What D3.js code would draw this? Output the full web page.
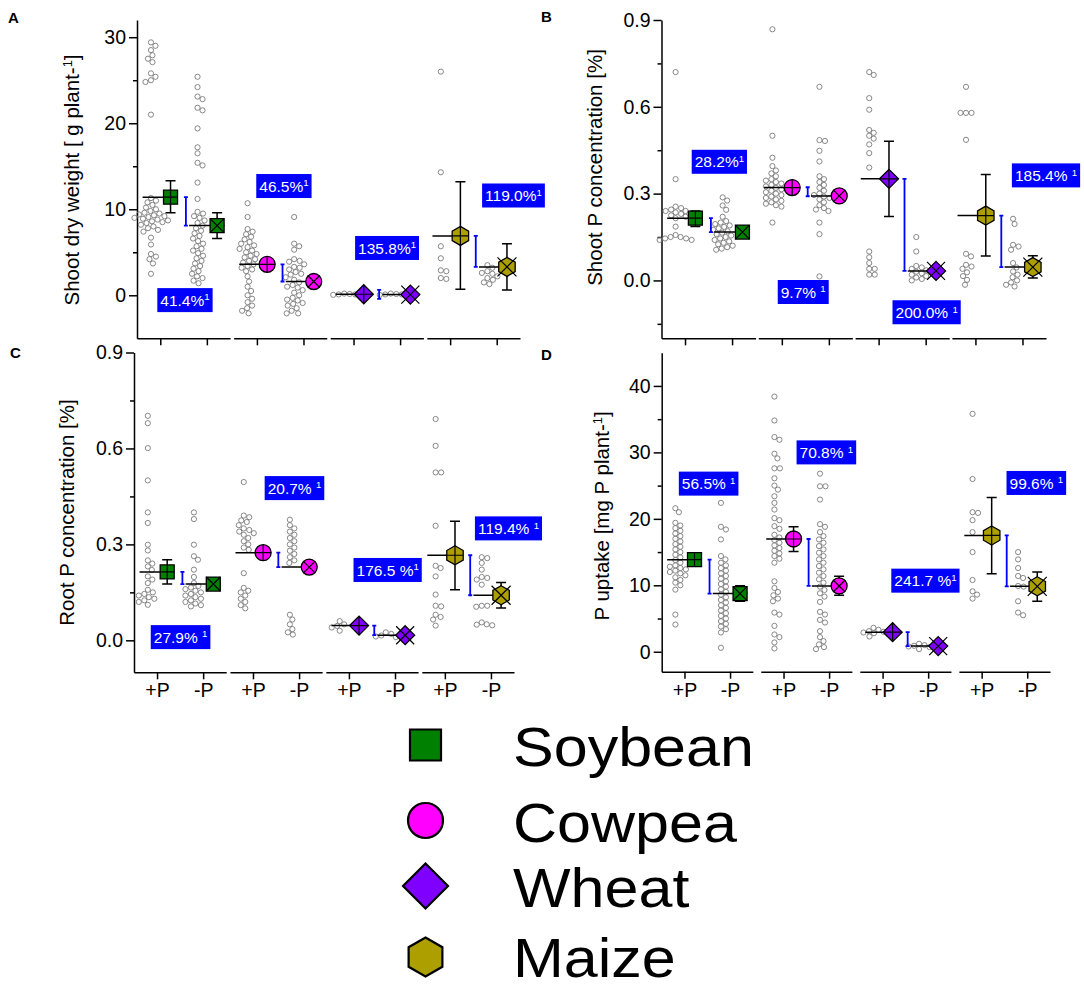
<!DOCTYPE html>
<html>
<head>
<meta charset="utf-8">
<script src="https://cdn.jsdelivr.net/npm/d3@7"></script>
<style>
body{margin:0;background:#fff;}
svg text{font-family:"Liberation Sans",Arial,Helvetica,sans-serif;white-space:pre;}
</style>
</head>
<body>
<svg id="chart" width="1084" height="995"></svg>
<script>
// ---- data ---------------------------------------------------------------
const crops = ["Soybean", "Cowpea", "Wheat", "Maize"];
const treatments = ["+P", "-P"];
const cropColors = ["#008000", "#ff00ff", "#8000ff", "#ad9f00"];
const cropShapes = ["square", "circle", "diamond", "hexagon"];

// A: shoot dry weight [g plant-1]  -> [crop][+P, -P]
const shootDwMean = [[11.4, 8.1], [3.6, 1.6], [0.12, 0.08], [6.9, 3.3]];
const shootDwLow  = [[9.6, 6.6], [3.2, 1.3], [0.0, 0.0], [0.7, 0.6]];
const shootDwHigh = [[13.3, 9.6], [4.0, 1.9], [0.25, 0.2], [13.2, 6.0]];
const shootDwPoints = [
  [[29.4, 29.0, 28.5, 27.9, 27.5, 27.1, 25.8, 25.4, 25.0, 24.8, 21.0, 11.3, 11.0, 10.8, 10.5, 10.2, 10.0, 9.8, 9.6, 9.5, 9.4, 9.3, 9.2, 9.1, 9.0, 8.9, 8.8, 8.7, 8.6, 8.5, 8.4, 8.2, 8.0, 7.8, 7.6, 7.4, 6.7, 5.9, 4.8, 4.5, 4.2, 3.7, 2.5],
   [25.4, 24.2, 23.1, 22.8, 21.8, 21.5, 19.4, 17.2, 16.5, 15.4, 15.1, 13.1, 11.2, 9.7, 9.5, 9.2, 9.0, 8.7, 8.4, 8.1, 7.8, 7.5, 7.2, 6.9, 6.6, 6.3, 6.0, 5.7, 5.4, 5.2, 4.9, 4.6, 4.3, 4.0, 3.7, 3.4, 3.1, 2.8, 2.5, 2.2, 2.0, 1.7, 1.4]],
  [[10.7, 9.1, 7.7, 7.4, 7.1, 6.8, 6.5, 6.2, 6.0, 5.8, 5.6, 5.4, 5.2, 5.0, 4.8, 4.6, 4.4, 4.2, 4.0, 3.8, 3.6, 3.4, 3.2, 3.0, 2.8, 2.2, 1.6, 1.0, 0.5, 0.0, -0.4, -0.8, -1.2, -1.5, -1.8, -2.1],
   [9.1, 6.0, 5.7, 5.3, 4.2, 4.0, 3.9, 3.6, 3.3, 3.2, 3.0, 2.7, 2.5, 2.4, 2.1, 1.8, 1.5, 1.2, 1.0, 0.9, 0.6, 0.3, 0.0, -0.3, -0.5, -0.6, -0.9, -1.0, -1.2, -1.5, -1.8, -2.1, -2.1]],
  [[0.1, 0.15, 0.2, 0.1, 0.05],
   [0.05, 0.1, 0.15, 0.1, 0.2]],
  [[26.0, 14.3, 5.7, 4.3, 2.9, 2.8, 2.0, 1.9],
   [3.5, 3.2, 2.8, 2.6, 2.5, 2.2, 2.0, 1.8, 1.5, 1.3]]
];
const shootDwLabels = ["41.4%^1", "46.5%^1", "135.8%^1", "119.0%^1"];
const shootDwLabelAt = [[1.53, -0.56], [1.58, 12.7], [1.72, 5.5], [2.36, 11.6]];

// B: shoot P concentration [%]
const shootPMean = [[0.215, 0.167], [0.321, 0.292], [0.351, 0.033], [0.224, 0.046]];
const shootPLow  = [[0.186, 0.155], [0.31, 0.282], [0.221, 0.025], [0.084, 0.008]];
const shootPHigh = [[0.24, 0.179], [0.332, 0.302], [0.481, 0.041], [0.366, 0.085]];
const shootPPoints = [
  [[0.72, 0.35, 0.255, 0.25, 0.245, 0.24, 0.24, 0.235, 0.23, 0.225, 0.22, 0.215, 0.186, 0.157, 0.15, 0.15, 0.145, 0.145, 0.14, 0.14],
   [0.287, 0.276, 0.259, 0.244, 0.22, 0.205, 0.2, 0.195, 0.19, 0.185, 0.18, 0.175, 0.17, 0.165, 0.16, 0.155, 0.15, 0.145, 0.14, 0.135, 0.13, 0.125, 0.12, 0.115, 0.11, 0.106]],
  [[0.868, 0.5, 0.424, 0.395, 0.38, 0.37, 0.36, 0.35, 0.345, 0.34, 0.335, 0.33, 0.325, 0.32, 0.315, 0.31, 0.305, 0.3, 0.295, 0.29, 0.285, 0.28, 0.275, 0.27, 0.265, 0.26, 0.255, 0.2],
   [0.669, 0.485, 0.482, 0.448, 0.411, 0.36, 0.35, 0.34, 0.33, 0.32, 0.31, 0.3, 0.295, 0.29, 0.285, 0.28, 0.27, 0.26, 0.25, 0.245, 0.24, 0.2, 0.16, 0.014]],
  [[0.72, 0.71, 0.63, 0.59, 0.52, 0.51, 0.5, 0.49, 0.47, 0.44, 0.39, 0.1, 0.08, 0.06, 0.04, 0.04, 0.02, 0.02],
   [0.15, 0.1, 0.05, 0.045, 0.04, 0.035, 0.03, 0.025, 0.02, 0.015, 0.01, 0.005, 0.0]],
  [[0.669, 0.579, 0.579, 0.579, 0.486, 0.092, 0.083, 0.054, 0.048, 0.04, 0.028, 0.015, 0.002, -0.015],
   [0.213, 0.195, 0.123, 0.117, 0.106, 0.06, 0.045, 0.031, 0.02, 0.011, 0.0, -0.007, -0.015, -0.021]]
];
const shootPLabels = ["28.2%^1", "9.7% ^1", "200.0% ^1", "185.4% ^1"];
const shootPLabelAt = [[1.73, 0.41], [1.455, -0.04], [2.02, -0.11], [2.5, 0.363]];

// C: root P concentration [%]
const rootPMean = [[0.214, 0.176], [0.274, 0.229], [0.046, 0.016], [0.266, 0.141]];
const rootPLow  = [[0.176, 0.165], [0.262, 0.218], [0.04, 0.011], [0.158, 0.101]];
const rootPHigh = [[0.252, 0.187], [0.286, 0.24], [0.052, 0.021], [0.372, 0.181]];
const rootPPoints = [
  [[0.702, 0.679, 0.601, 0.5, 0.4, 0.367, 0.299, 0.281, 0.25, 0.24, 0.231, 0.22, 0.2, 0.19, 0.179, 0.158, 0.15, 0.145, 0.14, 0.135, 0.13, 0.125, 0.12, 0.111],
   [0.4, 0.379, 0.299, 0.263, 0.252, 0.221, 0.198, 0.179, 0.17, 0.165, 0.16, 0.155, 0.15, 0.145, 0.14, 0.135, 0.13, 0.125, 0.12, 0.115, 0.11, 0.106]],
  [[0.495, 0.39, 0.385, 0.375, 0.37, 0.36, 0.35, 0.345, 0.34, 0.335, 0.33, 0.32, 0.31, 0.3, 0.29, 0.283, 0.21, 0.164, 0.155, 0.15, 0.14, 0.13, 0.12, 0.11, 0.1],
   [0.377, 0.36, 0.35, 0.34, 0.33, 0.32, 0.31, 0.3, 0.29, 0.28, 0.27, 0.26, 0.25, 0.242, 0.08, 0.065, 0.05, 0.035, 0.025, 0.018]],
  [[0.06, 0.05, 0.045, 0.04, 0.03],
   [0.025, 0.02, 0.015, 0.012, 0.01]],
  [[0.692, 0.608, 0.525, 0.525, 0.358, 0.233, 0.226, 0.2, 0.143, 0.108, 0.106, 0.08, 0.073, 0.065, 0.046],
   [0.26, 0.257, 0.242, 0.221, 0.198, 0.195, 0.19, 0.174, 0.108, 0.108, 0.105, 0.056, 0.05, 0.049, 0.047]]
];
const rootPLabels = ["27.9% ^1", "20.7% ^1", "176.5 %^1", "119.4% ^1"];
const rootPLabelAt = [[1.51, 0.01], [1.9, 0.476], [1.84, 0.22], [2.38, 0.35]];

// D: P uptake [mg P plant-1]
const uptakeMean = [[13.86, 8.75], [16.97, 9.9], [2.95, 0.85], [17.5, 9.85]];
const uptakeLow  = [[13.1, 7.6], [15.1, 8.5], [2.6, 0.6], [11.75, 7.6]];
const uptakeHigh = [[14.6, 9.95], [18.8, 11.35], [3.3, 1.1], [23.2, 12.0]];
const uptakePoints = [
  [[21.6, 21.0, 19.4, 19.0, 18.6, 18.2, 17.8, 17.4, 17.0, 16.6, 16.2, 15.8, 15.4, 15.0, 14.6, 14.2, 13.8, 13.4, 13.0, 12.8, 12.6, 12.4, 12.2, 12.0, 11.8, 11.5, 11.2, 10.8, 10.4, 10.0, 9.35, 5.6, 4.1],
   [22.4, 18.8, 18.4, 16.9, 14.4, 13.9, 13.4, 13.0, 12.6, 12.2, 11.8, 11.4, 11.0, 10.6, 10.2, 9.8, 9.4, 9.0, 8.6, 8.2, 7.8, 7.4, 7.0, 6.6, 6.2, 5.8, 5.4, 5.0, 4.6, 4.2, 3.8, 3.4, 2.9, 0.6]],
  [[38.4, 34.8, 32.3, 31.9, 29.8, 29.1, 27.6, 27.6, 26.1, 25.0, 24.4, 23.4, 22.4, 21.4, 20.1, 19.8, 18.9, 18.5, 17.6, 17.2, 16.8, 16.4, 16.0, 15.6, 15.2, 14.8, 14.4, 14.0, 13.4, 10.6, 9.6, 9.0, 8.5, 8.0, 7.6, 5.9, 5.6, 3.9, 2.6, 2.2, 1.4, 0.5],
   [26.8, 24.9, 24.9, 22.9, 19.2, 18.8, 18.0, 17.4, 16.9, 16.4, 15.9, 15.4, 14.9, 14.4, 13.9, 13.4, 12.9, 12.4, 11.9, 11.4, 10.9, 10.4, 9.8, 9.3, 8.8, 8.3, 7.5, 6.0, 5.6, 4.8, 4.4, 3.1, 2.2, 1.6, 1.1, 0.7, 0.4]],
  [[3.6, 3.3, 3.1, 3.0, 2.9, 2.8, 2.6, 2.3],
   [1.2, 1.0, 0.9, 0.8, 0.7, 0.6, 0.4]],
  [[35.8, 26.0, 21.0, 20.9, 19.8, 18.0, 15.0, 10.8, 9.1, 8.6, 8.0],
   [15.0, 13.9, 12.6, 11.4, 11.1, 9.9, 9.8, 7.6, 5.9, 5.5]]
];
const uptakeLabels = ["56.5% ^1", "70.8% ^1", "241.7 %^1", "99.6% ^1"];
const uptakeLabelAt = [[1.53, 25.3], [1.94, 30.0], [1.94, 10.7], [2.2, 25.4]];

// ---- layout -------------------------------------------------------------
const panels = [
  {letter: "A", lx: 8, ly: 23, x0: 137, x1: 520, pad: 0.036, top: 20, bottom: 338.3,
   domain: [-5, 32], major: [0, 10, 20, 30], minor: [5, 15, 25], fmt: d3.format("d"),
   title: ["Shoot dry weight [ g plant-", "1", "]"], tx: 72, ty: 180, xLabels: false,
   mean: shootDwMean, low: shootDwLow, high: shootDwHigh, points: shootDwPoints,
   labels: shootDwLabels, labelAt: shootDwLabelAt},
  {letter: "B", lx: 541, ly: 22, x0: 661.5, x1: 1046, pad: 0.028, top: 20, bottom: 338.3,
   domain: [-0.2, 0.9], major: [0, 0.3, 0.6, 0.9], minor: [-0.15, 0.15, 0.45, 0.75], fmt: d3.format(".1f"),
   title: ["Shoot P concentration [%]"], tx: 595, ty: 167.5, xLabels: false,
   mean: shootPMean, low: shootPLow, high: shootPHigh, points: shootPPoints,
   labels: shootPLabels, labelAt: shootPLabelAt},
  {letter: "C", lx: 10, ly: 358, x0: 134, x1: 514, pad: 0.039, top: 352.5, bottom: 672.3,
   domain: [-0.1, 0.9], major: [0, 0.3, 0.6, 0.9], minor: [0.15, 0.45, 0.75], fmt: d3.format(".1f"),
   title: ["Root P concentration [%]"], tx: 67, ty: 512.5, xLabels: true,
   mean: rootPMean, low: rootPLow, high: rootPHigh, points: rootPPoints,
   labels: rootPLabels, labelAt: rootPLabelAt},
  {letter: "D", lx: 541, ly: 360, x0: 661.7, x1: 1050, pad: 0.08, top: 352.7, bottom: 671.7,
   domain: [-3, 45], major: [0, 10, 20, 30, 40], minor: [5, 15, 25, 35], fmt: d3.format("d"),
   title: ["P uptake [mg P plant-", "1", "]"], tx: 602, ty: 516, xLabels: true,
   mean: uptakeMean, low: uptakeLow, high: uptakeHigh, points: uptakePoints,
   labels: uptakeLabels, labelAt: uptakeLabelAt}
];

const markerSize = {square: 7, circle: 8, diamond: 9.5, hexagon: 9.5};
const crossSize = {square: 7, circle: 6, diamond: 9, hexagon: 9.5};
const scatterX = [0.8, 1.8], markerX = [1.22, 2.22], blueX = 1.55;
const pointR = 2.6;

const svg = d3.select("#chart");

function shapePath(shape, s) {
  if (shape === "square") return `M${-s},${-s}H${s}V${s}H${-s}Z`;
  if (shape === "circle") return `M${-s},0A${s},${s} 0 1,0 ${s},0A${s},${s} 0 1,0 ${-s},0Z`;
  if (shape === "diamond") return `M0,${-s}L${s},0L0,${s}L${-s},0Z`;
  const pts = d3.range(6).map(k => {
    const a = (-90 + 60 * k) * Math.PI / 180;
    return [s * Math.cos(a), s * Math.sin(a)];
  });
  return "M" + pts.map(p => p.join(",")).join("L") + "Z";
}

// simple deterministic beeswarm: nearest free horizontal offset
function swarm(values, y) {
  const placed = [];
  const minD = 2 * pointR * 1.02;
  values.map(v => ({v: v, py: y(v)})).sort((a, b) => a.py - b.py).forEach(p => {
    let off = 0;
    for (let k = 0; k < 200; k++) {
      const o = (k % 2 ? 1 : -1) * Math.ceil(k / 2) * 0.5;
      if (placed.every(q => (q.dx - o) ** 2 + (q.py - p.py) ** 2 >= minD * minD)) { off = o; break; }
    }
    p.dx = off;
    placed.push(p);
  });
  return placed;
}

function addText(sel, str) {
  const parts = str.split("^");
  sel.append("tspan").text(parts[0]);
  if (parts.length > 1) sel.append("tspan").attr("font-size", "0.62em").attr("dy", "-0.55em").text(parts[1]);
}

panels.forEach(p => {
  const g = svg.append("g");
  const y = d3.scaleLinear().domain(p.domain).range([p.bottom, p.top]);
  const band = d3.scaleBand().domain(crops).range([p.x0, p.x1]).paddingInner(p.pad);
  const inner = d3.scaleLinear().domain([0.5, 2.5]).range([0, band.bandwidth()]);

  // panel letter
  g.append("text").attr("x", p.lx).attr("y", p.ly)
    .attr("font-size", 15).attr("font-weight", "bold").text(p.letter);

  // y axis
  const yAxis = g.append("g").attr("transform", `translate(${p.x0},0)`)
    .call(d3.axisLeft(y).tickValues(p.major).tickFormat(p.fmt).tickSize(8).tickSizeOuter(0).tickPadding(3));
  g.append("g").attr("transform", `translate(${p.x0},0)`)
    .call(d3.axisLeft(y).tickValues(p.minor).tickFormat("").tickSize(4))
    .call(a => a.select(".domain").remove());
  yAxis.selectAll("text").attr("font-size", 19.5).attr("font-family", null);

  // y title
  const t = g.append("text")
    .attr("transform", `translate(${p.tx},${p.ty}) rotate(-90)`)
    .attr("text-anchor", "middle").attr("dy", "0.36em").attr("font-size", 20.5);
  t.append("tspan").text(p.title[0]);
  if (p.title.length > 1) {
    t.append("tspan").attr("font-size", "0.62em").attr("dy", "-0.55em").text(p.title[1]);
    t.append("tspan").attr("dy", "0.34em").text(p.title[2]);
  }

  crops.forEach((crop, ci) => {
    const bx = band(crop);
    const cg = g.append("g").attr("transform", `translate(${bx},0)`);
    const shape = cropShapes[ci];
    const ms = markerSize[shape], cs = crossSize[shape];

    // broken x axis segment
    const xa = cg.append("g").attr("transform", `translate(0,${p.bottom})`)
      .call(d3.axisBottom(inner).tickValues([1, 2]).tickSize(7).tickSizeOuter(0).tickPadding(4)
        .tickFormat((d, i) => p.xLabels ? treatments[i] : ""));
    xa.selectAll("text").attr("font-size", 19.5).attr("font-family", null);

    treatments.forEach((tr, ti) => {
      // raw observations
      swarm(p.points[ci][ti], y).forEach(d => {
        cg.append("circle").attr("cx", inner(scatterX[ti]) + d.dx).attr("cy", d.py).attr("r", pointR)
          .attr("fill", "none").attr("stroke", "#7a7a7a").attr("stroke-width", 0.9);
      });
      const m = p.mean[ci][ti];
      // mean line
      cg.append("line").attr("x1", inner(scatterX[ti] - 0.18)).attr("x2", inner(markerX[ti] + 0.16))
        .attr("y1", y(m)).attr("y2", y(m)).attr("stroke", "#000").attr("stroke-width", 1.5);
      // error bar
      const ex = inner(markerX[ti]);
      cg.append("path")
        .attr("d", `M${ex},${y(p.low[ci][ti])}V${y(p.high[ci][ti])}M${ex - 5},${y(p.low[ci][ti])}H${ex + 5}M${ex - 5},${y(p.high[ci][ti])}H${ex + 5}`)
        .attr("stroke", "#000").attr("stroke-width", 1.5).attr("fill", "none");
      // mean marker
      const mg = cg.append("g").attr("transform", `translate(${ex},${y(m)})`);
      mg.append("path").attr("d", shapePath(shape, ms))
        .attr("fill", cropColors[ci]).attr("stroke", "#000").attr("stroke-width", 1.3);
      const hx = shape === "hexagon" ? ms * 0.866 : ms;
      const cross = ti === 0
        ? `M${-hx},0H${hx}M0,${-ms}V${ms}`
        : `M${-cs},${-cs}L${cs},${cs}M${-cs},${cs}L${cs},${-cs}`;
      mg.append("path").attr("d", cross).attr("stroke", "#000").attr("stroke-width", 1.2);
    });

    // blue difference bar between +P and -P means
    let y1 = y(p.mean[ci][0]), y2 = y(p.mean[ci][1]);
    if (Math.abs(y2 - y1) < 9) { const c = (y1 + y2) / 2; y1 = c - 4.5; y2 = c + 4.5; }
    const bxp = inner(blueX);
    cg.append("path")
      .attr("d", `M${bxp},${y1}V${y2}M${bxp - 2},${y1}H${bxp + 2}M${bxp - 2},${y2}H${bxp + 2}`)
      .attr("stroke", "#0000ff").attr("stroke-width", 1.8).attr("fill", "none");

    // percentage label
    const la = p.labelAt[ci];
    const lg = cg.append("g").attr("transform", `translate(${inner(la[0])},${y(la[1])})`);
    const rect = lg.append("rect").attr("fill", "#0000ff");
    const lt = lg.append("text").attr("text-anchor", "middle").attr("dy", "0.36em")
      .attr("font-size", 15.5).attr("fill", "#fff");
    addText(lt, p.labels[ci]);
    const bb = lt.node().getBBox();
    rect.attr("x", bb.x - 3).attr("y", -12).attr("width", bb.width + 6).attr("height", 24);
  });

  g.selectAll(".domain, .tick line").attr("stroke", "#000").attr("stroke-width", 1.5);
});

// ---- legend ---------------------------------------------------------------
const legendY = [745, 820.5, 886, 957];
const legendBase = [766, 841.5, 906.5, 976.5];
const legendSize = {square: 15.5, circle: 17.5, diamond: 22.5, hexagon: 19.5};
crops.forEach((crop, ci) => {
  const shape = cropShapes[ci];
  svg.append("path").attr("transform", `translate(425.5,${legendY[ci]})`)
    .attr("d", shapePath(shape, legendSize[shape]))
    .attr("fill", cropColors[ci]).attr("stroke", "#000").attr("stroke-width", 2.2);
  svg.append("text").attr("transform", `translate(513,${legendBase[ci]}) scale(1.09,1)`)
    .attr("font-size", 56).text(crop);
});
</script>
</body>
</html>
